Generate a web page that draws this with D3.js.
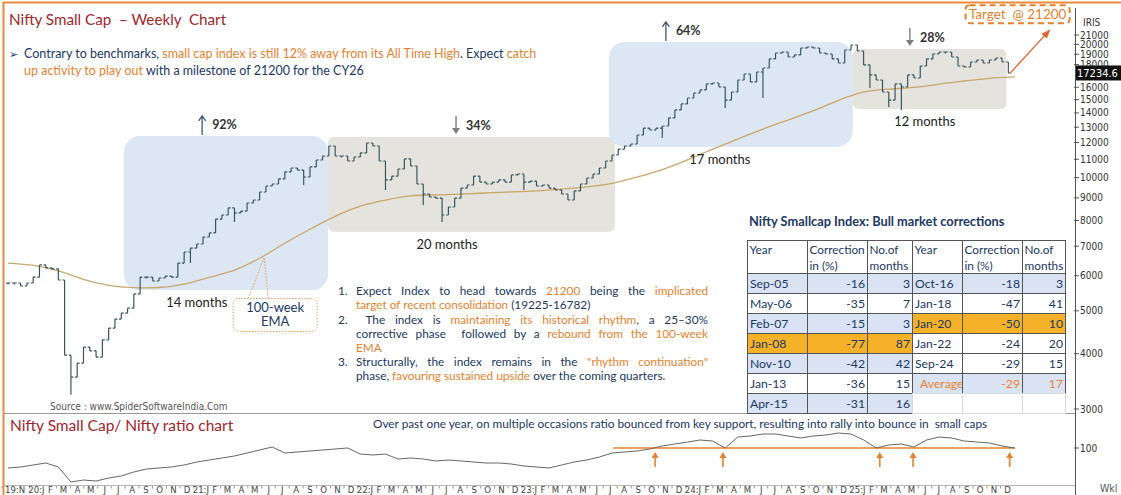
<!DOCTYPE html>
<html lang="en">
<head>
<meta charset="UTF-8">
<title>Nifty Small Cap – Weekly Chart</title>
<script src="https://d3js.org/d3.v7.min.js"></script>
<style>
  html, body { margin: 0; padding: 0; background: #fff; }
  svg { display: block; }
  text { font-family: Lato, "Open Sans", sans-serif; white-space: pre; }
  .ax text, text.ax { font-family: "DejaVu Sans Condensed", "DejaVu Sans", sans-serif; font-stretch: condensed; }
</style>
</head>
<body>
<div id="chart"></div>
<script>
// ---------- data ----------
// price: one close every 2 weeks from 1 Nov 2019
const barStart = "2019-11-01";
const barStepDays = 14;
const closes = [
  5780, 5780, 5690, 5780, 5960, 6350, 6250, 6220, 5870, 3970,
  3540, 3810, 4140, 4060, 3930, 4300, 4570, 4790, 4940, 5070,
  5460, 5960, 5960, 5840, 5930, 5990, 5960, 6410, 6790, 6930,
  7080, 7340, 7500, 8060, 8230, 8540, 8320, 8400, 8760, 8900,
  9280, 9570, 9670, 9930, 10300, 10510, 10400, 10030, 10570, 10960,
  11190, 11790, 11190, 11190, 10900, 11130, 11370, 11970, 11790, 10900,
  9880, 10080, 10460, 11020, 10620, 9670, 9180, 9040, 8990, 8230,
  8580, 8990, 9470, 9620, 10080, 9770, 9670, 9770, 9880, 9770,
  10140, 10190, 9770, 9820, 9570, 9620, 9470, 9380, 9180, 8900,
  9330, 9670, 9980, 10190, 10510, 10900, 11250, 11600, 11790, 11910,
  12480, 12940, 12810, 12940, 13080, 13640, 14220, 14670, 15130, 15530,
  15780, 16280, 16360, 16020, 14970, 15610, 16620, 17140, 16450, 17320,
  17690, 18540, 19120, 19220, 18730, 18930, 19630, 19730, 19630, 19120,
  19020, 18540, 18150, 19420, 19940, 19320, 17970, 17060, 16620, 15610,
  14970, 16280, 16020, 17060, 16790, 17870, 18540, 19020, 19220, 19220,
  18730, 17870, 17780, 18250, 18440, 18150, 18440, 18630, 18250, 17234.6
];
// long lower wicks (bar number, low)
const wickBars = [10, 29, 36, 47, 60, 66, 69, 82, 104, 114, 120, 137, 140, 142];
const wickLows = [3230, 6410, 7940, 9620, 9380, 8670, 7940, 9380, 12290, 14360, 15130, 15940, 14440, 14220];

// 100-week EMA, one value every 8 weeks
const emaStart = "2019-11-01";
const emaStepDays = 56;
const ema100 = [
  6410, 6350, 6180, 5870, 5690, 5630, 5630, 5720, 5960, 6150,
  6550, 7120, 7650, 8190, 8670, 8900, 9130, 9130, 9180, 9230,
  9280, 9330, 9420, 9520, 9670, 10030, 10400, 10960, 11600, 12220,
  12880, 13490, 14140, 14970, 15690, 15860, 15940, 16280, 16530, 16790,
  16880
];

// small cap / nifty ratio, one value every 4 weeks
const ratioStart = "2019-11-01";
const ratioStepDays = 28;
const ratio = [
  80, 81, 83, 85, 81, 66, 68, 67, 70, 72,
  76, 79, 80, 81, 83, 86, 88, 90, 92, 95,
  98, 101, 95, 96, 97, 98, 99, 100, 94, 93,
  94, 89, 90, 89, 87, 88, 87, 86, 85, 85,
  84, 82, 81, 80, 83, 86, 88, 91, 95, 96,
  97, 99, 102, 104, 106, 108, 107, 100, 111, 112,
  114, 114, 112, 110, 112, 113, 115, 114, 108, 100,
  103, 104, 101, 108, 111, 110, 107, 106, 105, 102,
  100
];
const ratioSupport = 100;
const supportFrom = "2023-07-10", supportTo = "2025-12-20";
const bounceDates = ["2023-10-11", "2024-03-10", "2025-02-22", "2025-05-07", "2025-12-08"];

// phases
const phaseStart = ["2020-07-16", "2021-10-13", "2023-06-30", "2024-12-24"];
const phaseEnd = ["2021-10-13", "2023-07-14", "2024-12-24", "2025-12-01"];
const phaseHigh = [12420, 12360, 20250, 19530];
const phaseLow = [5570, 7540, 11730, 14290];
const phaseKind = ["rally", "pause", "rally", "pause"];
const phaseMove = ["92%", "34%", "64%", "28%"];
const phaseArrowDate = ["2021-01-06", "2022-07-25", "2023-11-04", "2025-04-30"];
const phaseSpan = ["14 months", "20 months", "17 months", "12 months"];
const phaseSpanDate = ["2020-12-25", "2022-07-05", "2024-03-03", "2025-06-02"];

const priceTicks = [3000, 4000, 5000, 6000, 7000, 8000, 9000, 10000, 11000, 12000,
  13000, 14000, 15000, 16000, 18000, 19000, 20000, 21000];
const lastPrice = 17234.6;
const targetPrice = 21200;
const targetDate = "2026-03-07";
const emaNoteDate = "2021-05-24", emaNoteValue = 6600;

// correction table
const yearsL = ["Sep-05", "May-06", "Feb-07", "Jan-08", "Nov-10", "Jan-13", "Apr-15"];
const corrL = [-16, -35, -15, -77, -42, -36, -31];
const monthsL = [3, 7, 3, 87, 42, 15, 16];
const yearsR = ["Oct-16", "Jan-18", "Jan-20", "Jan-22", "Sep-24", "Average"];
const corrR = [-18, -47, -50, -24, -29, -29];
const monthsR = [3, 41, 10, 20, 15, 17];

// ---------- drawing ----------
const W = 1121, H = 495;
const BLUE = "#203864", ORANGE = "#e8812d", RED = "#a3262a", BAR = "#34505c";
const parse = d3.timeParse("%Y-%m-%d");

const svg = d3.select("#chart").append("svg").attr("width", W).attr("height", H);

const x = d3.scaleTime().domain([new Date(2019, 10, 1), new Date(2025, 11, 31)]).range([8, 1020]);
const yP = d3.scaleLog().domain([3000, 21000]).range([409, 35]);
const yR = d3.scaleLinear().domain([60, 120]).range([488, 428]);

// frame
svg.append("line").attr("x1", 3).attr("x2", W).attr("y1", 2.5).attr("y2", 2.5)
  .attr("stroke", "#e8893c").attr("stroke-width", 2);
svg.append("line").attr("x1", 3.5).attr("x2", 3.5).attr("y1", 2).attr("y2", H)
  .attr("stroke", "#e8893c").attr("stroke-width", 2);
svg.append("line").attr("x1", 4).attr("x2", 1075).attr("y1", 413.5).attr("y2", 413.5)
  .attr("stroke", "#9a9a9a").attr("stroke-width", 1);
svg.append("line").attr("x1", 4).attr("x2", 1075).attr("y1", 485.5).attr("y2", 485.5)
  .attr("stroke", "#b5b5b5").attr("stroke-width", 1);
svg.append("line").attr("x1", 1075.5).attr("x2", 1075.5).attr("y1", 8).attr("y2", H)
  .attr("stroke", "#555").attr("stroke-width", 1);

// phase boxes
const phases = phaseStart.map((s, i) => ({
  start: parse(s), end: parse(phaseEnd[i]), hi: phaseHigh[i], lo: phaseLow[i],
  kind: phaseKind[i], move: phaseMove[i], arrow: parse(phaseArrowDate[i]),
  span: phaseSpan[i], spanAt: parse(phaseSpanDate[i])
}));
svg.append("g").selectAll("rect").data(phases).join("rect")
  .attr("x", d => x(d.start)).attr("width", d => x(d.end) - x(d.start))
  .attr("y", d => yP(d.hi)).attr("height", d => yP(d.lo) - yP(d.hi))
  .attr("rx", d => d.kind === "rally" ? 16 : 6)
  .attr("fill", d => d.kind === "rally" ? "#dce7f3" : "#e4e3dd");

// EMA
const emaData = ema100.map((v, i) => ({ date: d3.timeDay.offset(parse(emaStart), i * emaStepDays), v }));
svg.append("path").datum(emaData)
  .attr("fill", "none").attr("stroke", "#c9a66b").attr("stroke-width", 1.3)
  .attr("d", d3.line().curve(d3.curveBasis).x(d => x(d.date)).y(d => yP(d.v)));

// price bars
const wick = new Map(wickBars.map((b, i) => [b, wickLows[i]]));
const bars = closes.map((c, i) => {
  const open = i ? closes[i - 1] : c;
  return {
    date: d3.timeDay.offset(parse(barStart), i * barStepDays),
    open, close: c,
    hi: Math.max(open, c), lo: Math.min(open, c, wick.has(i) ? wick.get(i) : c)
  };
});
svg.append("path")
  .attr("fill", "none").attr("stroke", BAR).attr("stroke-width", 1.15)
  .attr("d", bars.map(b => {
    const bx = x(b.date);
    const h = Math.max(yP(b.lo) - yP(b.hi), 1.5);
    return `M${bx},${yP(b.hi)}v${h}M${bx - 2.2},${yP(b.open)}h2.2M${bx},${yP(b.close)}h2.4`;
  }).join(""));

// phase annotations
phases.forEach(p => {
  const ax = x(p.arrow), top = yP(p.hi);
  const g = svg.append("g");
  if (p.kind === "rally") {
    g.append("path").attr("d", `M${ax},${top - 1}V${top - 20}M${ax - 3.5},${top - 15}L${ax},${top - 20}L${ax + 3.5},${top - 15}`)
      .attr("fill", "none").attr("stroke", "#3f5874").attr("stroke-width", 1.3);
  } else {
    g.append("path").attr("d", `M${ax},${top - 21}V${top - 8}`)
      .attr("stroke", "#7d7d7d").attr("stroke-width", 1.4);
    g.append("path").attr("d", `M${ax - 4},${top - 9}L${ax + 4},${top - 9}L${ax},${top - 3}Z`).attr("fill", "#7d7d7d");
  }
  g.append("text").attr("x", ax + 10).attr("y", top - 7).attr("font-size", 12.5)
    .attr("font-weight", 700).attr("fill", "#333").text(p.move);
  g.append("text").attr("x", x(p.spanAt)).attr("y", yP(p.lo) + 17).attr("text-anchor", "middle")
    .attr("font-size", 13).attr("fill", "#222").text(p.span);
});

// EMA callout
{
  const ax = x(parse(emaNoteDate)), ay = yP(emaNoteValue);
  const bx = ax - 31, by = ay + 41;
  const g = svg.append("g");
  g.append("path").attr("d", `M${ax - 16},${by}L${ax},${ay}L${ax + 4},${by}`)
    .attr("fill", "none").attr("stroke", "#e7995f").attr("stroke-width", 1).attr("stroke-dasharray", "1.5,1.5");
  g.append("rect").attr("x", bx).attr("y", by).attr("width", 84).attr("height", 33).attr("rx", 5)
    .attr("fill", "#fff").attr("stroke", "#e7995f").attr("stroke-width", 1).attr("stroke-dasharray", "1.5,1.5");
  g.append("text").attr("x", bx + 42).attr("y", by + 14).attr("text-anchor", "middle")
    .attr("font-size", 13).attr("fill", BLUE).text("100-week");
  g.append("text").attr("x", bx + 42).attr("y", by + 28).attr("text-anchor", "middle")
    .attr("font-size", 13).attr("fill", BLUE).text("EMA");
}

// target arrow and box
{
  const last = bars[bars.length - 1];
  const x0 = x(last.date) + 2, y0 = yP(lastPrice);
  const x1 = x(parse(targetDate)), y1 = yP(targetPrice) - 3;
  svg.append("defs").append("marker").attr("id", "head").attr("viewBox", "0 0 10 10")
    .attr("refX", 9).attr("refY", 5).attr("markerWidth", 7).attr("markerHeight", 7).attr("orient", "auto")
    .append("path").attr("d", "M0,1L10,5L0,9Z").attr("fill", "#e2642c");
  svg.append("line").attr("x1", x0).attr("y1", y0).attr("x2", x1).attr("y2", y1)
    .attr("stroke", "#e2642c").attr("stroke-width", 1.3).attr("marker-end", "url(#head)");
  svg.append("rect").attr("x", x1 - 84).attr("y", y1 - 25).attr("width", 104).attr("height", 18).attr("rx", 4)
    .attr("fill", "#fff").attr("stroke", ORANGE).attr("stroke-width", 2).attr("stroke-dasharray", "6,4");
  svg.append("text").attr("x", x1 - 32).attr("y", y1 - 11.5).attr("text-anchor", "middle")
    .attr("font-size", 13.5).attr("fill", ORANGE).text(`Target  @ ${targetPrice}`);
}

// price axis (right)
const ax = svg.append("g").attr("class", "ax");
priceTicks.forEach(t => {
  ax.append("line").attr("x1", 1074).attr("x2", 1079).attr("y1", yP(t)).attr("y2", yP(t)).attr("stroke", "#555");
  ax.append("text").attr("x", 1080).attr("y", yP(t) + 3.5).attr("font-size", 10).attr("fill", "#333").text(t);
});
ax.append("text").attr("x", 1083).attr("y", 26).attr("font-size", 10).attr("fill", "#333").text("IRIS");
ax.append("rect").attr("x", 1076).attr("y", yP(lastPrice) - 7.5).attr("width", 45).attr("height", 15).attr("fill", "#111");
ax.append("text").attr("x", 1077).attr("y", yP(lastPrice) + 4).attr("font-size", 11).attr("fill", "#fff").text(lastPrice);
ax.append("line").attr("x1", 1074).attr("x2", 1079).attr("y1", yR(100)).attr("y2", yR(100)).attr("stroke", "#555");
ax.append("text").attr("x", 1080).attr("y", yR(100) + 3.5).attr("font-size", 10).attr("fill", "#333").text(100);
ax.append("text").attr("x", 1100).attr("y", 492).attr("font-size", 10.5).attr("fill", "#555").text("Wkl");

// ratio panel
const ratioData = ratio.map((v, i) => ({ date: d3.timeDay.offset(parse(ratioStart), i * ratioStepDays), v }));
svg.append("line").attr("x1", x(parse(supportFrom))).attr("x2", x(parse(supportTo)))
  .attr("y1", yR(ratioSupport)).attr("y2", yR(ratioSupport))
  .attr("stroke", ORANGE).attr("stroke-width", 1.6);
svg.append("path").datum(ratioData)
  .attr("fill", "none").attr("stroke", "#666").attr("stroke-width", 1)
  .attr("d", d3.line().x(d => x(d.date)).y(d => yR(d.v)));
bounceDates.forEach(s => {
  const bx = x(parse(s)), by = yR(ratioSupport);
  svg.append("path").attr("d", `M${bx},${by + 19}V${by + 9}`).attr("stroke", ORANGE).attr("stroke-width", 1.6);
  svg.append("path").attr("d", `M${bx - 3.5},${by + 10}L${bx + 3.5},${by + 10}L${bx},${by + 4}Z`).attr("fill", ORANGE);
});

// month labels
const xa = svg.append("g").attr("class", "ax");
const letters = "JFMAMJJASOND";
d3.timeMonth.range(new Date(2019, 10, 1), new Date(2026, 0, 1)).forEach((m, i) => {
  if (i === 1) return;
  const mo = m.getMonth();
  const mx = x(m);
  xa.append("line").attr("x1", mx - 6).attr("x2", mx - 6).attr("y1", 486).attr("y2", 488.5).attr("stroke", "#999");
  const t = xa.append("text").attr("y", 493).attr("font-size", 9.5).attr("fill", "#444").attr("text-anchor", "middle");
  if (i === 0) t.attr("x", 5).attr("text-anchor", "start").text("19:" + letters[mo]);
  else if (mo === 0) t.attr("x", mx + 1).text(String(m.getFullYear()).slice(2) + ":J");
  else t.attr("x", mx + 1).text(letters[mo]);
});

// texts
function rich(g, x0, y0, size, segs) {
  const t = g.append("text").attr("x", x0).attr("y", y0).attr("font-size", size);
  segs.forEach(([s, c]) => t.append("tspan").text(s).attr("fill", c === "o" ? ORANGE : BLUE));
  return t;
}
function justify(t, width) {
  const n = (t.text().match(/ /g) || []).length;
  const w = t.node().getComputedTextLength();
  if (n && w < width) t.attr("word-spacing", (width - w) / n);
}
const tx = svg.append("g");
tx.append("text").attr("x", 9).attr("y", 25).attr("font-size", 15.2).attr("fill", RED).text("Nifty Small Cap  – Weekly  Chart");
tx.append("text").attr("x", 9).attr("y", 58).attr("font-size", 11).attr("fill", BLUE)
  .style("font-family", "'DejaVu Sans'").text("➢");
rich(tx, 24, 58, 12.5, [["Contrary to benchmarks, ", "b"], ["small cap index is still 12% away from its All Time High", "o"],
  [". Expect ", "b"], ["catch", "o"]]);
rich(tx, 24, 75, 12.5, [["up activity to play out", "o"], [" with a milestone of 21200 for the CY26", "b"]]);

tx.append("text").attr("class", "ax").attr("x", 50).attr("y", 410).attr("font-size", 10).attr("fill", "#555")
  .text("Source : www.SpiderSoftwareIndia.Com");
tx.append("text").attr("x", 10).attr("y", 431).attr("font-size", 15.5).attr("fill", RED).text("Nifty Small Cap/ Nifty ratio chart");
rich(tx, 373, 428, 11.8, [["Over past one year, on multiple occasions ratio bounced from key support, resulting into rally into bounce in  small caps", "b"]]);

// numbered notes
const notes = [
  { n: "1.", y: 295, segs: [["Expect Index to head towards ", "b"], ["21200", "o"], [" being the ", "b"], ["implicated", "o"]], just: true },
  { y: 309, segs: [["target of recent consolidation", "o"], [" (19225-16782)", "b"]] },
  { n: "2.", y: 324, segs: [[" The index is ", "b"], ["maintaining its historical rhythm", "o"], [", a 25–30%", "b"]], just: true },
  { y: 338, segs: [["corrective phase  followed by a ", "b"], ["rebound from the 100-week", "o"]], just: true },
  { y: 352, segs: [["EMA", "o"]] },
  { n: "3.", y: 366, segs: [["Structurally, the index remains in the ", "b"], ["\"rhythm continuation\"", "o"]], just: true },
  { y: 380, segs: [["phase, ", "b"], ["favouring sustained upside", "o"], [" over the coming quarters.", "b"]] }
];
notes.forEach(l => {
  if (l.n) tx.append("text").attr("x", 338).attr("y", l.y).attr("font-size", 11.8).attr("fill", BLUE).text(l.n);
  const t = rich(tx, 356, l.y, 11.8, l.segs);
  if (l.just) justify(t, 352);
});

// correction table
const tg = svg.append("g");
tg.append("text").attr("x", 749).attr("y", 226).attr("font-size", 12.8).attr("font-weight", 700).attr("fill", BLUE)
  .text("Nifty Smallcap Index: Bull market corrections");
const cols = [747, 807, 867, 912, 962, 1022, 1065];
const headTop = 240, headH = 33, rowH = 20;
const FS = 11.8;
const shade = { b: "#dae3f3", w: "#ffffff", o: "#f5b228" };
const shadeL = ["b", "w", "b", "o", "b", "w", "b"];
const shadeR = ["b", "w", "o", "w", "w", "b"];
function cell(c, r, fill, stroke) {
  const y0 = r < 0 ? headTop : headTop + headH + r * rowH;
  tg.append("rect").attr("x", cols[c] + 0.5).attr("y", y0 + 0.5).attr("width", cols[c + 1] - cols[c])
    .attr("height", r < 0 ? headH : rowH).attr("fill", fill).attr("stroke", stroke).attr("stroke-width", 1);
  return y0;
}
[[0, "Year"], [1, "Correction", "in (%)"], [2, "No.of", "months"], [3, "Year"], [4, "Correction", "in (%)"], [5, "No.of", "months"]]
  .forEach(([c, a, b]) => {
    const y0 = cell(c, -1, "#fff", "#555");
    tg.append("text").attr("x", cols[c] + 2.5).attr("y", y0 + 14).attr("font-size", FS).attr("fill", BLUE).text(a);
    if (b) tg.append("text").attr("x", cols[c] + 2.5).attr("y", y0 + 30).attr("font-size", FS).attr("fill", BLUE).text(b);
  });
function row(c0, r, year, corr, mon, fill, color) {
  [year, corr, mon].forEach((v, k) => {
    const y0 = cell(c0 + k, r, fill, "#555");
    const t = tg.append("text").attr("y", y0 + 15).attr("font-size", FS + 0.4).attr("fill", color).text(v);
    if (k === 0) t.attr("x", cols[c0] + (year === "Average" ? 8 : 3));
    else t.attr("x", cols[c0 + k + 1] - 2).attr("text-anchor", "end");
  });
}
yearsL.forEach((y, i) => row(0, i, y, corrL[i], monthsL[i], shade[shadeL[i]], BLUE));
yearsR.forEach((y, i) => row(3, i, y, corrR[i], monthsR[i], shade[shadeR[i]], y === "Average" ? ORANGE : BLUE));
[3, 4, 5].forEach(c => cell(c, yearsL.length - 1, "#fff", "#d8d8d8"));
</script>
</body>
</html>
